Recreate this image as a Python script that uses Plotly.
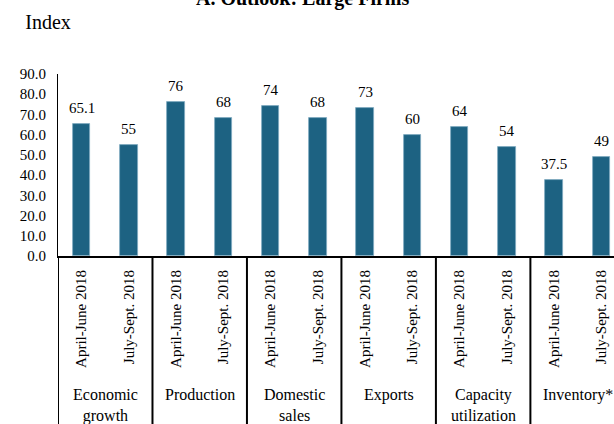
import plotly.graph_objects as go

# Survey outlook indices for large firms, two quarters per indicator
groups = ["Economic<br>growth", "Production", "Domestic<br>sales", "Exports",
          "Capacity<br>utilization", "Inventory*"]
periods = ["April-June 2018", "July-Sept. 2018"]
values = [65.1, 55, 76, 68, 74, 68, 73, 60, 64, 54, 37.5, 49]
value_labels = ["65.1", "55", "76", "68", "74", "68", "73", "60", "64", "54", "37.5", "49"]
y_ticks = [0, 10, 20, 30, 40, 50, 60, 70, 80, 90]

FONT = "Liberation Serif, Times New Roman, serif"
W, H = 614, 424
M_L, M_R, M_T, M_B = 58, 0, 74, 168
plot_w = W - M_L - M_R
plot_h = H - M_T - M_B


def px(pixel_x):
    """Convert a page pixel column into a paper x coordinate."""
    return (pixel_x - M_L) / plot_w


def py(pixel_y):
    """Convert a page pixel row into a paper y coordinate."""
    return (H - M_B - pixel_y) / plot_h


n = len(values)
xs = list(range(n))
tick_text = [periods[i % 2] for i in xs]

fig = go.Figure()
fig.add_trace(go.Bar(
    x=xs, y=values, width=0.37,
    marker=dict(color="#1d6282", line=dict(color="#7fa9c0", width=0.8)),
    hoverinfo="skip",
))

annotations = []
# value labels above each bar
for x, v, t in zip(xs, values, value_labels):
    annotations.append(dict(x=x, y=v, xref="x", yref="y", text=t, showarrow=False,
                            yanchor="bottom", yshift=6,
                            font=dict(family=FONT, size=15, color="black")))
# indicator names below the period labels
for g, name in enumerate(groups):
    annotations.append(dict(x=2 * g + 0.5, y=py(384), xref="x", yref="paper", text=name,
                            showarrow=False, yanchor="top", xanchor="center",
                            font=dict(family=FONT, size=16, color="black")))
annotations.append(dict(x=px(303), y=py(-1), xref="paper", yref="paper",
                        text="<b>A. Outlook: Large Firms</b>", showarrow=False,
                        xanchor="center", yanchor="middle",
                        font=dict(family=FONT, size=20, color="black")))

# group dividers running down through the label area
shapes = []
for b in [-0.5, 1.5, 3.5, 5.5, 7.5, 9.5]:
    shapes.append(dict(type="line", xref="x", yref="paper", x0=b, x1=b,
                       y0=0, y1=py(H + 2), line=dict(color="black", width=2)))

fig.update_layout(
    width=W, height=H,
    margin=dict(l=M_L, r=M_R, t=M_T, b=M_B),
    paper_bgcolor="white", plot_bgcolor="white",
    showlegend=False,
    title=dict(text="Index", xref="container", yref="container",
               x=48 / W, xanchor="center", y=1 - 22 / H, yanchor="middle",
               font=dict(family=FONT, size=20, color="black")),
    annotations=annotations, shapes=shapes,
    font=dict(family=FONT, color="black"),
    bargap=0,
)
fig.update_xaxes(
    range=[-0.5, 11.27], tickmode="array", tickvals=xs, ticktext=tick_text,
    tickangle=-90, ticks="", showgrid=False, zeroline=False,
    showline=True, linecolor="black", linewidth=2,
    tickfont=dict(family=FONT, size=15, color="black"), ticklabelstandoff=6,
)
fig.update_yaxes(
    range=[0, 90], tickmode="array", tickvals=y_ticks, tickformat=".1f",
    ticks="", showgrid=False, zeroline=False,
    showline=True, linecolor="black", linewidth=1,
    tickfont=dict(family=FONT, size=15, color="black"), ticklabelstandoff=8,
)

fig.write_html("out.html")
